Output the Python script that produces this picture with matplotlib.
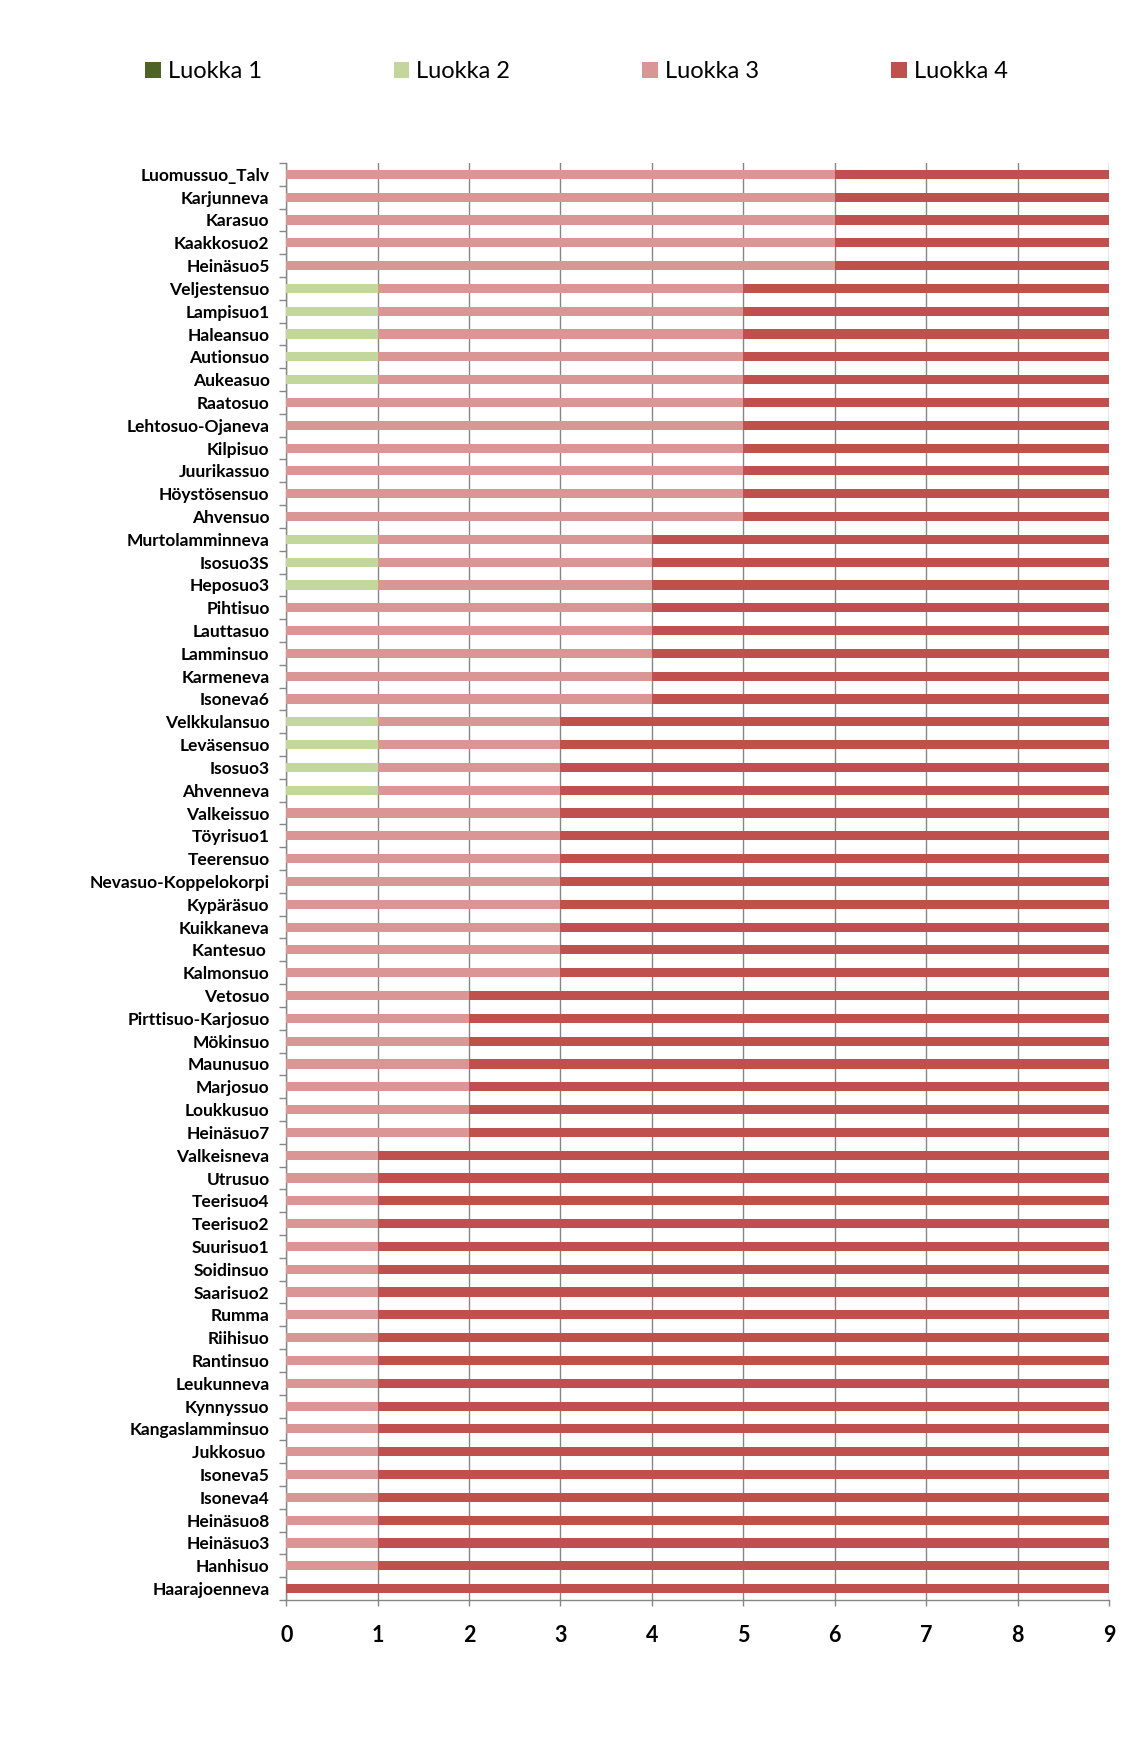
import numpy as np
import matplotlib
matplotlib.use('Agg')
import matplotlib.pyplot as plt
from matplotlib.ticker import FixedLocator

# categories listed top -> bottom
sites = ['Luomussuo_Talv', 'Karjunneva', 'Karasuo', 'Kaakkosuo2', 'Heinäsuo5',
         'Veljestensuo', 'Lampisuo1', 'Haleansuo', 'Autionsuo', 'Aukeasuo',
         'Raatosuo', 'Lehtosuo-Ojaneva', 'Kilpisuo', 'Juurikassuo', 'Höystösensuo', 'Ahvensuo',
         'Murtolamminneva', 'Isosuo3S', 'Heposuo3',
         'Pihtisuo', 'Lauttasuo', 'Lamminsuo', 'Karmeneva', 'Isoneva6',
         'Velkkulansuo', 'Leväsensuo', 'Isosuo3', 'Ahvenneva',
         'Valkeissuo', 'Töyrisuo1', 'Teerensuo', 'Nevasuo-Koppelokorpi', 'Kypäräsuo',
         'Kuikkaneva', 'Kantesuo ', 'Kalmonsuo',
         'Vetosuo', 'Pirttisuo-Karjosuo', 'Mökinsuo', 'Maunusuo', 'Marjosuo', 'Loukkusuo', 'Heinäsuo7',
         'Valkeisneva', 'Utrusuo', 'Teerisuo4', 'Teerisuo2', 'Suurisuo1', 'Soidinsuo', 'Saarisuo2',
         'Rumma', 'Riihisuo', 'Rantinsuo', 'Leukunneva', 'Kynnyssuo', 'Kangaslamminsuo',
         'Jukkosuo ', 'Isoneva5', 'Isoneva4', 'Heinäsuo8', 'Heinäsuo3', 'Hanhisuo',
         'Haarajoenneva']

luokka1 = [0] * 63
luokka2 = ([0] * 5 + [1] * 5 + [0] * 6 + [1] * 3 + [0] * 5 + [1] * 4
           + [0] * 8 + [0] * 7 + [0] * 19 + [0])
luokka3 = ([6] * 5 + [4] * 5 + [5] * 6 + [3] * 3 + [4] * 5 + [2] * 4
           + [3] * 8 + [2] * 7 + [1] * 19 + [0])
luokka4 = ([3] * 5 + [4] * 5 + [4] * 6 + [5] * 3 + [5] * 5 + [6] * 4
           + [6] * 8 + [7] * 7 + [8] * 19 + [9])

series = ['Luokka 1', 'Luokka 2', 'Luokka 3', 'Luokka 4']
colors = ['#4F6228', '#C3D69B', '#D99694', '#C0504D']

fig = plt.figure(figsize=(11.38, 17.54), dpi=100)
ax = fig.add_axes([0.2515, 0.0878, 0.723, 0.8193])

y = np.arange(len(sites))
left = np.zeros(len(sites))
handles = []
for name, vals, c in zip(series, [luokka1, luokka2, luokka3, luokka4], colors):
    vals = np.array(vals, dtype=float)
    b = ax.barh(y, vals, left=left, height=0.4, color=c, label=name, zorder=3)
    handles.append(b)
    left += vals

ax.set_xlim(0, 9)
ax.set_ylim(len(sites) - 0.5, -0.5)
ax.set_xticks(range(10))
ax.set_yticks(y)
ax.set_yticklabels(sites, fontsize=12.5, fontweight='bold', family=['Lato', 'DejaVu Sans'])
ax.yaxis.set_minor_locator(FixedLocator(np.arange(-0.5, len(sites), 1)))
ax.tick_params(axis='y', which='major', length=0, pad=12)
ax.tick_params(axis='y', which='minor', length=5, width=1, color='#868686', direction='out')
ax.tick_params(axis='x', length=4, width=1, color='#868686', pad=14)
for lab in ax.get_xticklabels():
    lab.set_fontsize(15.5)
    lab.set_fontweight('bold')
    lab.set_family(['Lato', 'DejaVu Sans'])

ax.grid(axis='x', color='#868686', linewidth=1, zorder=0)
for s in ['top', 'right']:
    ax.spines[s].set_visible(False)
for s in ['left', 'bottom']:
    ax.spines[s].set_color('#868686')
    ax.spines[s].set_linewidth(1)

fig.legend(handles=handles, labels=series, loc='center', bbox_to_anchor=(0.5065, 0.959),
           ncol=4, frameon=False, handlelength=0.65, handleheight=0.65, handletextpad=0.3,
           columnspacing=5.6, prop={'family': ['Lato', 'DejaVu Sans'], 'size': 17})

fig.savefig('out.png', dpi=100)
